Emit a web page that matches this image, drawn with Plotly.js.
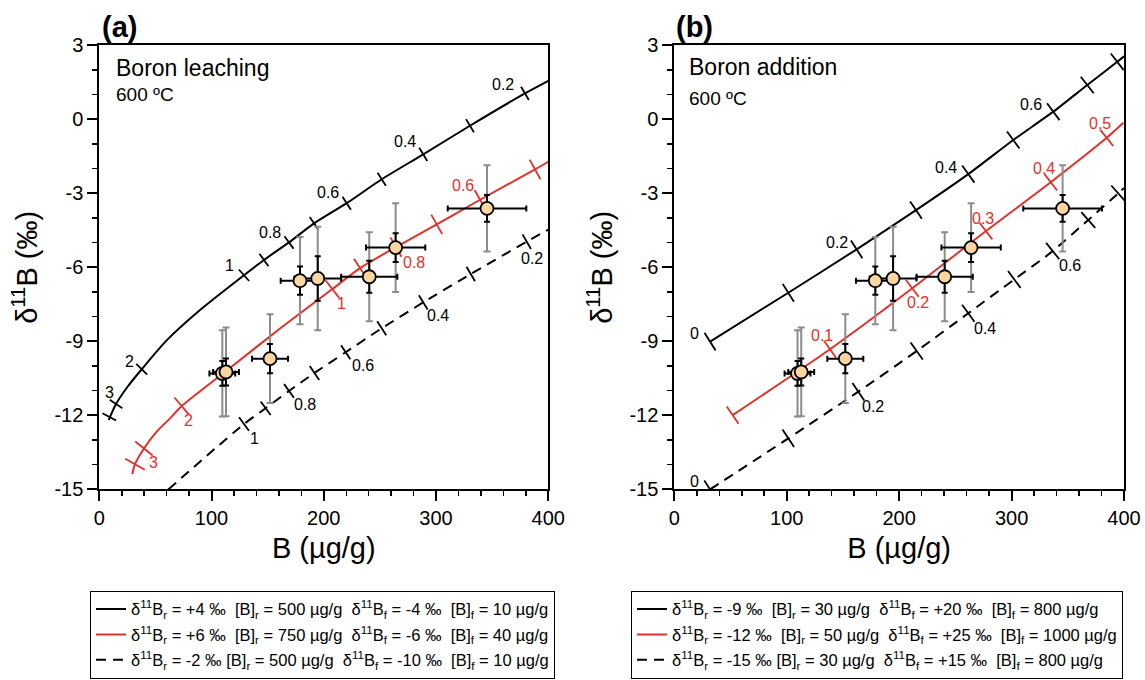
<!DOCTYPE html>
<html>
<head>
<meta charset="utf-8">
<script src="https://cdn.plot.ly/plotly-3.0.1.min.js"></script>
<style>html,body{margin:0;padding:0;background:#fff;}#chart{width:1145px;height:680px;}</style>
</head>
<body>
<div id="chart"></div>
<script>
// ---------------- data ----------------
// samples (same in both panels)
const sampleB = [109.6, 112.9, 152.1, 178.8, 194.6, 240.5, 264.0, 345.4];
const sampleD11B = [-10.30, -10.24, -9.70, -6.54, -6.45, -6.38, -5.20, -3.61];
const sampleBErr = [11.5, 11.5, 16, 17.2, 20.8, 25, 26.4, 35];
const sampleD11BErr = [0.5, 0.55, 0.59, 0.57, 0.9, 0.65, 0.58, 0.54];
const sampleD11BErrTotal = [1.75, 1.8, 1.8, 1.77, 2.1, 1.8, 1.8, 1.75];

// panel (a) – boron leaching curves
const aBlackX = [8.3, 14.9, 25, 37.8, 60, 90, 128.9, 146.7, 169.0, 191.3, 220.4, 251.6, 288.6, 330.2, 379.2, 400];
const aBlackY = [-12.19, -11.54, -10.85, -10.13, -8.96, -7.72, -6.32, -5.70, -4.99, -4.22, -3.40, -2.43, -1.42, -0.26, 1.05, 1.56];
const aBlackTickX = [8.9, 14.9, 37.8, 128.9, 146.7, 169.0, 191.3, 220.4, 251.6, 288.6, 330.2, 379.2];
const aBlackTickY = [-12.06, -11.54, -10.13, -6.32, -5.70, -4.99, -4.22, -3.40, -2.43, -1.42, -0.26, 1.05];
const aBlackTickLab = ['', '3', '2', '1', '', '0.8', '', '0.6', '', '0.4', '', '0.2'];

const aRedX = [29.4, 31.8, 39.8, 51.1, 63.0, 73.4, 116.4, 161.0, 207.6, 232.3, 264.3, 300.6, 339.2, 388.2, 400.0];
const aRedY = [-14.38, -13.98, -13.34, -12.66, -12.12, -11.62, -10.08, -8.48, -6.88, -6.03, -5.18, -4.26, -3.26, -2.03, -1.72];
const aRedTickX = [31.8, 39.8, 73.4, 207.6, 232.3, 264.3, 300.6, 339.2, 388.2];
const aRedTickY = [-13.98, -13.34, -11.62, -6.88, -6.03, -5.18, -4.26, -3.26, -2.03];
const aRedTickLab = ['', '3', '2', '1', '', '0.8', '', '0.6', ''];

const aDashX = [61.5, 128.9, 148.2, 169.0, 191.7, 219.5, 251.6, 288.6, 330.9, 380.8, 400];
const aDashY = [-15.0, -12.35, -11.71, -11.01, -10.28, -9.44, -8.47, -7.42, -6.27, -4.96, -4.47];
const aDashTickX = [128.9, 148.2, 169.0, 191.7, 219.5, 251.6, 288.6, 330.9, 380.8];
const aDashTickY = [-12.35, -11.71, -11.01, -10.28, -9.44, -8.47, -7.42, -6.27, -4.96];
const aDashTickLab = ['1', '', '0.8', '', '0.6', '', '0.4', '', '0.2'];

// panel (b) – boron addition curves
const bBlackX = [31.8, 101.4, 162.2, 215.0, 261.5, 301.5, 337.1, 367.3, 394.0, 400];
const bBlackY = [-9.01, -7.03, -5.27, -3.68, -2.22, -0.84, 0.31, 1.39, 2.33, 2.55];
const bBlackTickX = [31.8, 101.4, 162.2, 215.0, 261.5, 301.5, 337.1, 367.3, 394.0];
const bBlackTickY = [-9.01, -7.03, -5.27, -3.68, -2.22, -0.84, 0.31, 1.39, 2.33];
const bBlackTickLab = ['0', '', '0.2', '', '0.4', '', '0.6', '', ''];

const bRedX = [51.9, 138.5, 211.7, 277.2, 334.8, 384.6, 399.4];
const bRedY = [-11.99, -9.32, -6.85, -4.53, -2.55, -0.75, -0.14];
const bRedTickX = [51.9, 138.5, 211.7, 277.2, 334.8, 384.6];
const bRedTickY = [-11.99, -9.32, -6.85, -4.53, -2.55, -0.75];
const bRedTickLab = ['', '0.1', '0.2', '0.3', '0.4', '0.5'];

const bDashX = [31.8, 101.4, 163.7, 215.6, 261.5, 302.4, 336.6, 368.2, 394.9, 400];
const bDashY = [-15.0, -12.93, -11.04, -9.39, -7.86, -6.49, -5.34, -4.08, -3.0, -2.78];
const bDashTickX = [31.8, 101.4, 163.7, 215.6, 261.5, 302.4, 336.6, 368.2, 394.9];
const bDashTickY = [-15.0, -12.93, -11.04, -9.39, -7.86, -6.49, -5.34, -4.08, -3.0];
const bDashTickLab = ['0', '', '0.2', '', '0.4', '', '0.6', '', ''];

// axis ticks
const xTickVals = [0, 100, 200, 300, 400];
const xTickText = ['0', '100', '200', '300', '400'];
const yTickVals = [-15, -12, -9, -6, -3, 0, 3];
const yTickText = ['-15', '-12', '-9', '-6', '-3', '0', '3'];

// legend texts
const legendA = [
  'δ<sup>11</sup>B<sub>r</sub> = +4 ‰\u00a0 [B]<sub>r</sub> = 500 µg/g\u00a0 δ<sup>11</sup>B<sub>f</sub> = -4 ‰\u00a0 [B]<sub>f</sub> = 10 µg/g',
  'δ<sup>11</sup>B<sub>r</sub> = +6 ‰\u00a0 [B]<sub>r</sub> = 750 µg/g\u00a0 δ<sup>11</sup>B<sub>f</sub> = -6 ‰\u00a0 [B]<sub>f</sub> = 40 µg/g',
  'δ<sup>11</sup>B<sub>r</sub> = -2 ‰ [B]<sub>r</sub> = 500 µg/g\u00a0 δ<sup>11</sup>B<sub>f</sub> = -10 ‰\u00a0 [B]<sub>f</sub> = 10 µg/g'
];
const legendB = [
  'δ<sup>11</sup>B<sub>r</sub> = -9 ‰\u00a0 [B]<sub>r</sub> = 30 µg/g\u00a0 δ<sup>11</sup>B<sub>f</sub> = +20 ‰\u00a0 [B]<sub>f</sub> = 800 µg/g',
  'δ<sup>11</sup>B<sub>r</sub> = -12 ‰\u00a0 [B]<sub>r</sub> = 50 µg/g\u00a0 δ<sup>11</sup>B<sub>f</sub> = +25 ‰\u00a0 [B]<sub>f</sub> = 1000 µg/g',
  'δ<sup>11</sup>B<sub>r</sub> = -15 ‰ [B]<sub>r</sub> = 30 µg/g\u00a0 δ<sup>11</sup>B<sub>f</sub> = +15 ‰\u00a0 [B]<sub>f</sub> = 800 µg/g'
];

// ---------------- styles ----------------
const FONT = 'Liberation Sans, Arial, sans-serif';
const RED = '#e5302a';
const W = 1145, H = 680;
const plotA = {l: 99.3, r: 548.3}, plotB = {l: 674.3, r: 1124}, plotY = {t: 45.3, b: 489.4};
const XR = [0, 400], YR = [-15, 3];

// label offsets (px, label centre relative to its tick)
const offABlack = [null, [-7, -12], [-12, -8], [-14, -10], null, [-19, -10], null, [-19, -11], null, [-18, -13], null, [-22, -9]];
const offARed = [null, [10, 14], [7, 14], [9, 14], null, [18, 15], null, [-17, -14], null];
const offADash = [[11, 14], null, [16, 14], null, [17, 13], null, [15, 13], null, [5, 17]];
const offBBlack = [[-16, -8], null, [-20, -7], null, [-22, -7], null, [-22, -7], null, null];
const offBRed = [null, [-8, -14], [6, 14], [-3, -13], [-7, -14], [-7, -14]];
const offBDash = [[-16, -8], null, [15, 15], null, [17, 15], null, [17, 14], null, null];

const traces = [];
const annotations = [];

function tickAngles(tx, ty, pxW) {
  const sx = pxW / (XR[1] - XR[0]);
  const sy = (plotY.b - plotY.t) / (YR[1] - YR[0]);
  return tx.map((x, i) => {
    const i0 = Math.max(0, i - 1), i1 = Math.min(tx.length - 1, i + 1);
    const dx = (tx[i1] - tx[i0]) * sx, dy = (ty[i1] - ty[i0]) * sy;
    return -Math.atan2(dy, dx) * 180 / Math.PI;
  });
}

function addCurve(c, xa, ya, pxW, legend, group) {
  traces.push({
    type: 'scatter', mode: 'lines', x: c.x, y: c.y, xaxis: xa, yaxis: ya,
    name: c.name, legend: legend, legendgroup: group, showlegend: true,
    line: {color: c.color, width: 2, dash: c.dash, shape: 'spline', smoothing: 0.7},
    hoverinfo: 'skip'
  });
  traces.push({
    type: 'scatter', mode: 'markers', x: c.tx, y: c.ty, xaxis: xa, yaxis: ya,
    showlegend: false, legend: legend, hoverinfo: 'skip',
    marker: {symbol: 'line-ns', size: c.tick, angle: tickAngles(c.tx, c.ty, pxW),
      color: c.color, line: {color: c.color, width: 1.8}}
  });
  c.tl.forEach((t, i) => {
    if (!t) return;
    const o = c.off[i] || [0, -12];
    annotations.push({
      x: c.tx[i], y: c.ty[i], xref: xa, yref: ya, text: t, showarrow: false,
      xanchor: 'center', yanchor: 'middle', xshift: o[0], yshift: -o[1],
      font: {family: FONT, size: 16, color: c.color}
    });
  });
}

function addSamples(xa, ya) {
  traces.push({
    type: 'scatter', mode: 'markers', x: sampleB, y: sampleD11B, xaxis: xa, yaxis: ya,
    showlegend: false, hoverinfo: 'skip',
    marker: {size: 2, color: 'rgba(0,0,0,0)'},
    error_y: {type: 'data', array: sampleD11BErrTotal, visible: true, color: '#8c8c8c', thickness: 2, width: 3.5}
  });
  traces.push({
    type: 'scatter', mode: 'markers', x: sampleB, y: sampleD11B, xaxis: xa, yaxis: ya,
    showlegend: false, hoverinfo: 'skip',
    marker: {size: 13, color: '#fcd6a0', line: {color: '#000', width: 1.8}},
    error_x: {type: 'data', array: sampleBErr, visible: true, color: '#000', thickness: 2, width: 3},
    error_y: {type: 'data', array: sampleD11BErr, visible: true, color: '#000', thickness: 2, width: 3}
  });
}

const wA = plotA.r - plotA.l, wB = plotB.r - plotB.l;
addCurve({name: legendA[0], x: aBlackX, y: aBlackY, tx: aBlackTickX, ty: aBlackTickY, tl: aBlackTickLab, off: offABlack, color: '#000', dash: 'solid', tick: 11}, 'x', 'y', wA, 'legend', 'a1');
addCurve({name: legendA[1], x: aRedX, y: aRedY, tx: aRedTickX, ty: aRedTickY, tl: aRedTickLab, off: offARed, color: RED, dash: 'solid', tick: 16}, 'x', 'y', wA, 'legend', 'a2');
addCurve({name: legendA[2], x: aDashX, y: aDashY, tx: aDashTickX, ty: aDashTickY, tl: aDashTickLab, off: offADash, color: '#000', dash: '10px,7px', tick: 12}, 'x', 'y', wA, 'legend', 'a3');
addCurve({name: legendB[0], x: bBlackX, y: bBlackY, tx: bBlackTickX, ty: bBlackTickY, tl: bBlackTickLab, off: offBBlack, color: '#000', dash: 'solid', tick: 15}, 'x2', 'y2', wB, 'legend2', 'b1');
addCurve({name: legendB[1], x: bRedX, y: bRedY, tx: bRedTickX, ty: bRedTickY, tl: bRedTickLab, off: offBRed, color: RED, dash: 'solid', tick: 15}, 'x2', 'y2', wB, 'legend2', 'b2');
addCurve({name: legendB[2], x: bDashX, y: bDashY, tx: bDashTickX, ty: bDashTickY, tl: bDashTickLab, off: offBDash, color: '#000', dash: '10px,7px', tick: 15}, 'x2', 'y2', wB, 'legend2', 'b3');
addSamples('x', 'y');
addSamples('x2', 'y2');

function px(v) { return v / W; }
function py(v) { return 1 - v / H; }

function textAnn(x, y, text, size, anchor) {
  annotations.push({xref: 'paper', yref: 'paper', x: px(x), y: py(y), text: text, showarrow: false,
    xanchor: anchor || 'left', yanchor: 'middle', font: {family: FONT, size: size, color: '#000'}});
}
textAnn(119, 27, '<b>(a)</b>', 29, 'center');
textAnn(694, 27, '<b>(b)</b>', 29, 'center');
textAnn(114, 68, 'Boron leaching', 23);
textAnn(114, 95, '600 ºC', 19);
textAnn(687, 67.5, 'Boron addition', 23);
textAnn(687, 98.5, '600 ºC', 19);

function xAxis(dom, anchor) {
  return {domain: dom, anchor: anchor, range: XR, showline: true, linecolor: '#000', linewidth: 2, mirror: true,
    ticks: 'outside', ticklen: 10, tickwidth: 2, tickcolor: '#000', showgrid: false, zeroline: false,
    tickmode: 'array', tickvals: xTickVals, ticktext: xTickText,
    tickfont: {family: FONT, size: 20, color: '#000'},
    minor: {tickmode: 'linear', tick0: 0, dtick: 20, ticks: 'outside', ticklen: 5, tickwidth: 1.5, tickcolor: '#000', showgrid: false},
    title: {text: 'B (µg/g)', font: {family: FONT, size: 29, color: '#000'}, standoff: 9}};
}
function yAxis(anchor) {
  return {domain: [py(plotY.b), py(plotY.t)], anchor: anchor, range: YR, showline: true, linecolor: '#000', linewidth: 2, mirror: true,
    ticks: 'outside', ticklen: 10, tickwidth: 2, tickcolor: '#000', showgrid: false, zeroline: false,
    tickmode: 'array', tickvals: yTickVals, ticktext: yTickText,
    tickfont: {family: FONT, size: 20, color: '#000'},
    minor: {tickmode: 'linear', tick0: 0, dtick: 1, ticks: 'outside', ticklen: 5, tickwidth: 1.5, tickcolor: '#000', showgrid: false},
    title: {text: 'δ<sup>11</sup>B (‰)', font: {family: FONT, size: 29, color: '#000'}, standoff: 8}};
}

const legendStyle = (x) => ({x: px(x), y: py(590.7), xanchor: 'left', yanchor: 'top', bordercolor: '#000', borderwidth: 1,
  bgcolor: '#fff', font: {family: FONT, size: 16.5, color: '#000'}, traceorder: 'grouped', tracegroupgap: 1, itemwidth: 30});

const layout = {
  width: W, height: H, margin: {l: 0, r: 0, t: 0, b: 0},
  paper_bgcolor: '#fff', plot_bgcolor: '#fff',
  font: {family: FONT, color: '#000'},
  xaxis: xAxis([px(plotA.l), px(plotA.r)], 'y'),
  yaxis: yAxis('x'),
  xaxis2: xAxis([px(plotB.l), px(plotB.r)], 'y2'),
  yaxis2: yAxis('x2'),
  showlegend: true,
  legend: legendStyle(90),
  legend2: legendStyle(631),
  annotations: annotations
};

Plotly.newPlot('chart', traces, layout, {displayModeBar: false, staticPlot: true});
</script>
</body>
</html>
